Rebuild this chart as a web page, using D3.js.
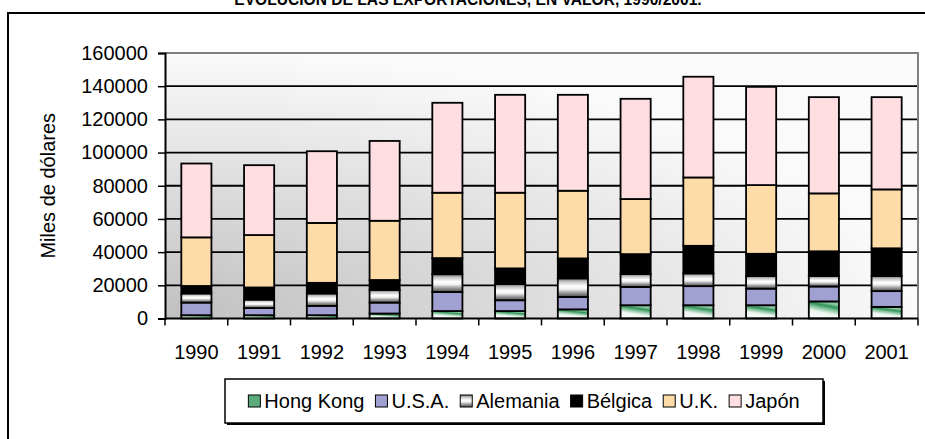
<!DOCTYPE html>
<html>
<head>
<meta charset="utf-8">
<script src="https://cdn.jsdelivr.net/npm/d3@7"></script>
<style>
  body { margin: 0; background: #fff; }
  svg { display: block; font-family: "Liberation Sans", Arial, sans-serif; }
</style>
</head>
<body>
<div id="chart"></div>
<script>
// Exportaciones por destino, miles de dólares
var years = ['1990','1991','1992','1993','1994','1995','1996','1997','1998','1999','2000','2001'];
var seriesNames = ['Hong Kong','U.S.A.','Alemania','Bélgica','U.K.','Japón'];
var hongKong = [2000, 2000, 2000, 3000, 4500, 4500, 5500, 8000, 8000, 8000, 10300, 7000];
var usa      = [7600, 4300, 5600, 6600, 11500, 6500, 7500, 11000, 11500, 10000, 9000, 9500];
var alemania = [5500, 5100, 7500, 7600, 10700, 9800, 11200, 7800, 7700, 7600, 6300, 9100];
var belgica  = [4500, 7300, 6400, 6000, 9700, 9400, 12000, 12000, 16600, 13400, 14900, 16700];
var uk       = [29300, 31600, 36100, 35700, 39400, 45600, 40800, 33200, 41200, 41400, 34900, 35500];
var japon    = [44500, 42100, 43200, 48100, 54200, 59000, 57800, 60400, 60700, 59200, 58000, 55600];
var yTicks = [0, 20000, 40000, 60000, 80000, 100000, 120000, 140000, 160000];

var width = 925, height = 439;
var plot = { left: 165, right: 918, top: 53, bottom: 318.5 };
var font = '"Liberation Sans", Arial, sans-serif';

var rows = years.map(function(y, i){
  return { year: y, 'Hong Kong': hongKong[i], 'U.S.A.': usa[i], 'Alemania': alemania[i],
           'Bélgica': belgica[i], 'U.K.': uk[i], 'Japón': japon[i] };
});

var svg = d3.select('#chart').append('svg')
  .attr('width', width)
  .attr('height', height);

var defs = svg.append('defs');

// plot background: grey in the lower-left corner fading to white
var bg = defs.append('radialGradient').attr('id', 'plotBg')
  .attr('cx', 0).attr('cy', 1).attr('r', 1).attr('fx', 0).attr('fy', 1);
bg.append('stop').attr('offset', '0%').attr('stop-color', '#c0c0c0');
bg.append('stop').attr('offset', '100%').attr('stop-color', '#fafafa');

// Hong Kong: pale fill with a green diagonal band near the top
var hk = defs.append('linearGradient').attr('id', 'fillHK')
  .attr('x1', 0).attr('y1', 1).attr('x2', 0.35).attr('y2', 0);
[['0%', '#ffffff'], ['45%', '#eef6f0'], ['70%', '#7cbf95'], ['85%', '#2f9358'], ['100%', '#8cc7a2']]
  .forEach(function(s){ hk.append('stop').attr('offset', s[0]).attr('stop-color', s[1]); });

// Alemania: metallic horizontal bands
var al = defs.append('linearGradient').attr('id', 'fillAL')
  .attr('x1', 0).attr('y1', 0).attr('x2', 0).attr('y2', 1);
[['0%', '#6e6e6e'], ['18%', '#c4c4c4'], ['42%', '#ffffff'], ['58%', '#f0f0f0'], ['78%', '#9a9a9a'], ['100%', '#505050']]
  .forEach(function(s){ al.append('stop').attr('offset', s[0]).attr('stop-color', s[1]); });

var fills = {
  'Hong Kong': 'url(#fillHK)',
  'U.S.A.': '#a0a0d2',
  'Alemania': 'url(#fillAL)',
  'Bélgica': '#000000',
  'U.K.': '#fedca8',
  'Japón': '#ffdee2'
};

// Title (cut by the top of the picture, as in the original)
svg.append('text')
  .attr('x', 468).attr('y', 5)
  .attr('text-anchor', 'middle')
  .attr('font-weight', 'bold')
  .attr('font-size', 15.6)
  .text('EVOLUCIÓN DE LAS EXPORTACIONES, EN VALOR, 1990/2001.');

// chart frame
svg.append('rect')
  .attr('x', 8).attr('y', 13)
  .attr('width', 960).attr('height', 480)
  .attr('fill', 'none')
  .attr('stroke', '#000')
  .attr('stroke-width', 2);

var x = d3.scaleBand()
  .domain(years)
  .range([plot.left, plot.right])
  .paddingInner(0.52)
  .paddingOuter(0.26);

var y = d3.scaleLinear()
  .domain([0, 160000])
  .range([plot.bottom, plot.top]);

// plot area
svg.append('rect')
  .attr('x', plot.left).attr('y', plot.top)
  .attr('width', plot.right - plot.left)
  .attr('height', plot.bottom - plot.top)
  .attr('fill', 'url(#plotBg)');

// gridlines
svg.append('g').selectAll('line')
  .data(yTicks.filter(function(d){ return d > 0 && d < 160000; }))
  .enter().append('line')
    .attr('x1', plot.left).attr('x2', plot.right)
    .attr('y1', function(d){ return y(d); })
    .attr('y2', function(d){ return y(d); })
    .attr('stroke', '#000')
    .attr('stroke-width', 1.8);

// top / right border of plot area
svg.append('path')
  .attr('d', 'M' + plot.left + ',' + plot.top + 'H' + plot.right + 'V' + plot.bottom)
  .attr('fill', 'none')
  .attr('stroke', '#808080')
  .attr('stroke-width', 2);

// stacked bars
var stack = d3.stack().keys(seriesNames)(rows);

svg.append('g').selectAll('g')
  .data(stack)
  .enter().append('g')
    .attr('fill', function(d){ return fills[d.key]; })
  .selectAll('rect')
  .data(function(d){ return d; })
  .enter().append('rect')
    .attr('x', function(d){ return x(d.data.year); })
    .attr('width', x.bandwidth())
    .attr('y', function(d){ return y(d[1]); })
    .attr('height', function(d){ return y(d[0]) - y(d[1]); })
    .attr('stroke', '#000')
    .attr('stroke-width', 1.8);

// y axis
svg.append('g')
  .attr('transform', 'translate(' + plot.left + ',0)')
  .call(d3.axisLeft(y).tickValues(yTicks).tickFormat(d3.format('d')).tickSize(7).tickPadding(10))
  .call(function(g){
    g.select('.domain').attr('stroke', '#000').attr('stroke-width', 2);
    g.selectAll('.tick line').attr('stroke', '#000').attr('stroke-width', 1.5);
    g.selectAll('.tick text').attr('font-size', 20).attr('fill', '#000')
      .attr('font-family', font);
  });

svg.append('text')
  .attr('transform', 'translate(55,' + ((plot.top + plot.bottom) / 2) + ') rotate(-90)')
  .attr('text-anchor', 'middle')
  .attr('font-size', 20)
  .text('Miles de dólares');

// x axis: ticks between categories, labels centred
svg.append('line')
  .attr('x1', plot.left).attr('x2', plot.right)
  .attr('y1', plot.bottom).attr('y2', plot.bottom)
  .attr('stroke', '#000').attr('stroke-width', 2);

svg.append('g').selectAll('line')
  .data(d3.range(years.length + 1))
  .enter().append('line')
    .attr('x1', function(i){ return plot.left + i * (plot.right - plot.left) / years.length; })
    .attr('x2', function(i){ return plot.left + i * (plot.right - plot.left) / years.length; })
    .attr('y1', plot.bottom).attr('y2', plot.bottom + 7)
    .attr('stroke', '#000').attr('stroke-width', 1.5);

svg.append('g').selectAll('text')
  .data(years)
  .enter().append('text')
    .attr('x', function(d){ return x(d) + x.bandwidth() / 2; })
    .attr('y', 359)
    .attr('text-anchor', 'middle')
    .attr('font-size', 20)
    .text(function(d){ return d; });

// legend
var legendBox = { x: 225, y: 379, w: 598, h: 44 };
var legend = svg.append('g').attr('id', 'legend');
legend.append('rect')
  .attr('x', legendBox.x + 2).attr('y', legendBox.y + 2)
  .attr('width', legendBox.w).attr('height', legendBox.h)
  .attr('fill', '#000');
legend.append('rect')
  .attr('x', legendBox.x).attr('y', legendBox.y)
  .attr('width', legendBox.w).attr('height', legendBox.h)
  .attr('fill', '#fff')
  .attr('stroke', '#000')
  .attr('stroke-width', 1.5);

var items = legend.append('g');
var cursor = 0, sw = 12, swGap = 4, itemGap = 11;
seriesNames.forEach(function(name){
  var item = items.append('g').attr('transform', 'translate(' + cursor + ',0)');
  item.append('rect')
    .attr('x', 0).attr('y', -sw / 2)
    .attr('width', sw).attr('height', sw)
    .attr('fill', name === 'Hong Kong' ? '#5aab7a' : fills[name])
    .attr('stroke', '#000')
    .attr('stroke-width', 1);
  var t = item.append('text')
    .attr('x', sw + swGap).attr('y', 7)
    .attr('font-size', 20)
    .text(name);
  cursor += sw + swGap + t.node().getComputedTextLength() + itemGap;
});
cursor -= itemGap;
items.attr('transform', 'translate(' + (legendBox.x + (legendBox.w - cursor) / 2) + ',' + (legendBox.y + legendBox.h / 2) + ')');
</script>
</body>
</html>
